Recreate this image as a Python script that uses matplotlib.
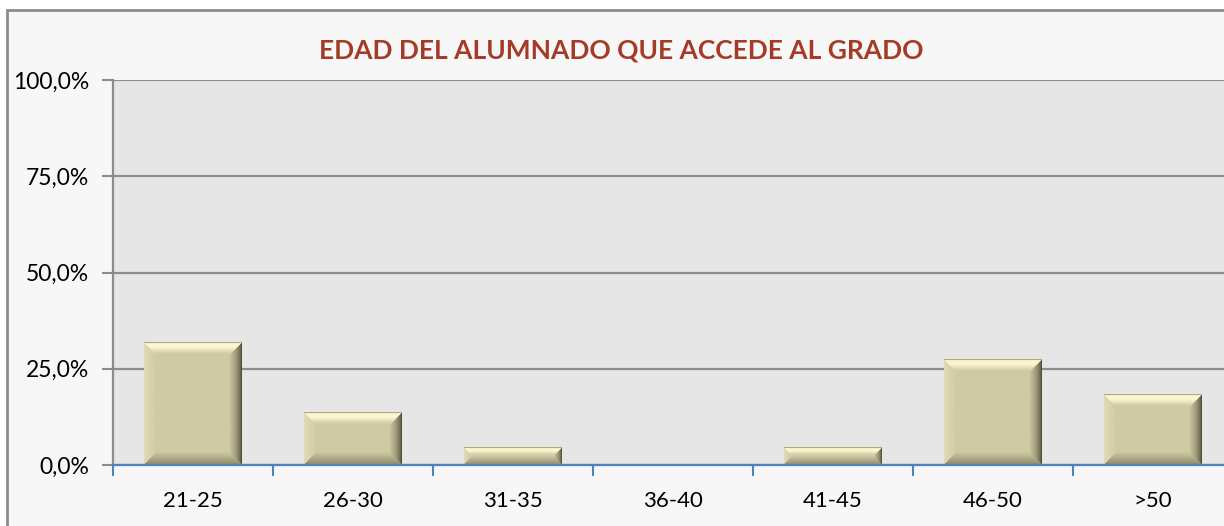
import matplotlib
matplotlib.use('Agg')
import matplotlib.pyplot as plt
from matplotlib.patches import Rectangle
from matplotlib.ticker import FuncFormatter, FixedLocator
import numpy as np

plt.rcParams['font.family'] = ['Lato', 'DejaVu Sans']

# Data
categories = ['21-25', '26-30', '31-35', '36-40', '41-45', '46-50', '>50']
values = [31.8, 13.6, 4.5, 0.0, 4.5, 27.3, 18.2]
y_ticks = [0, 25, 50, 75, 100]
title = 'EDAD DEL ALUMNADO QUE ACCEDE AL GRADO'

W, H = 1224, 526
fig = plt.figure(figsize=(W / 100, H / 100), dpi=100)
fig.patch.set_facecolor('white')

# outer chart frame
frame = Rectangle((7 / W, -0.05), 1.1, (H - 10) / H + 0.05, transform=fig.transFigure,
                  facecolor='#f7f7f7', edgecolor='#8c8c8c', linewidth=2, zorder=-5)
fig.patches.append(frame)

ax_left, ax_right = 113 / W, 1233 / W
ax_bottom, ax_top = (H - 465) / H, (H - 80) / H
ax = fig.add_axes([ax_left, ax_bottom, ax_right - ax_left, ax_top - ax_bottom])
ax.set_zorder(2)
ax.set_facecolor('#e6e6e6')

x = np.arange(len(categories))
bar_w = 0.61
bars = ax.bar(x, values, width=bar_w, color='#cfcaa3', edgecolor='none', zorder=3)

# bevel shading, built from each bar's own geometry
ppx = 1120 / len(categories)   # pixels per category
ppy = 385 / 100                # pixels per percent
bev = 13.0
base = np.array([207, 202, 163]) / 255
hi = np.array([252, 247, 206]) / 255
lt = np.array([224, 219, 184]) / 255
dk = np.array([52, 50, 34]) / 255
bt = np.array([140, 136, 106]) / 255

for b in bars:
    x0, w, h = b.get_x(), b.get_width(), b.get_height()
    if h <= 0:
        continue
    nw = int(round(w * ppx))
    nh = max(int(round(h * ppy)), 2)
    bp = min(bev, nh / 2)
    u = np.arange(nw)[None, :] + 0.5
    v = (nh - np.arange(nh))[:, None] - 0.5  # distance from bottom, row 0 = top
    dl = np.broadcast_to(u, (nh, nw))
    dr = nw - dl
    db = np.broadcast_to(v, (nh, nw))
    dt = nh - db
    d = np.stack([dt, db, dl, dr])
    side = np.argmin(d, axis=0)
    dmin = np.min(d, axis=0)
    t = np.clip(dmin / bp, 0, 1)[..., None]
    img = np.broadcast_to(base, (nh, nw, 3)).copy()
    # top: highlight ramp, brightest a little inside the edge
    prof_top = np.clip(1.6 * np.sin(np.pi * np.clip(t * 0.9 + 0.1, 0, 1)) * (1 - t), 0, 1)
    top_col = base + (hi - base) * prof_top
    edge_dark = (dmin < 1.2)[..., None]
    top_col = np.where(edge_dark, base * 0.85, top_col)
    bot_col = bt + (base - bt) * t
    left_col = lt + (base - lt) * t
    right_col = dk + (base - dk) * np.sqrt(t)
    img = np.where((side == 0)[..., None] & (t < 1), top_col, img)
    img = np.where((side == 1)[..., None] & (t < 1), bot_col, img)
    img = np.where((side == 2)[..., None] & (t < 1), left_col, img)
    img = np.where((side == 3)[..., None] & (t < 1), right_col, img)
    ax.imshow(np.clip(img, 0, 1), extent=(x0, x0 + w, 0, h), aspect='auto',
              interpolation='bilinear', zorder=4)

ax.set_xlim(-0.5, len(categories) - 0.5)
ax.set_ylim(0, 100)

# grid
ax.yaxis.set_major_locator(FixedLocator(y_ticks))
ax.yaxis.grid(True, color='#8c8c8c', linewidth=1.6, zorder=1)
ax.set_axisbelow(True)
ax.yaxis.set_major_formatter(FuncFormatter(lambda v, p: f'{v:.1f}%'.replace('.', ',')))
ax.tick_params(axis='y', length=8, width=1.5, color='#8c8c8c', labelsize=16.5,
               labelcolor='black', pad=9)

# x axis: labels centered, ticks between categories
ax.set_xticks(x)
ax.set_xticklabels(categories)
ax.tick_params(axis='x', which='major', length=0, labelsize=16, pad=19)
ax.set_xticks(np.arange(-0.5, len(categories), 1), minor=True)
ax.tick_params(axis='x', which='minor', length=8, width=1.5, color='#4f81bd')

for s in ['top', 'right']:
    ax.spines[s].set_visible(False)
ax.spines['left'].set_color('#8c8c8c')
ax.spines['left'].set_linewidth(1.6)
ax.spines['bottom'].set_color('#4f81bd')
ax.spines['bottom'].set_linewidth(1.6)
ax.spines['bottom'].set_zorder(7)

fig.text(621 / W, 1 - 50 / H, title, ha='center', va='center', fontsize=19,
         fontweight='bold', color='#a53a26')

fig.savefig('out.png', dpi=100)
